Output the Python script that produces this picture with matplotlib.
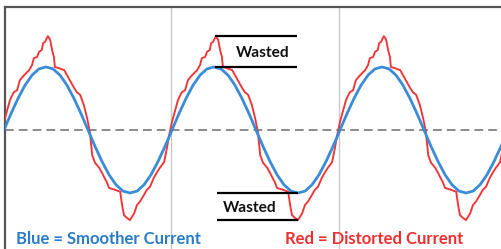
import matplotlib.pyplot as plt
import numpy as np

# one cycle of each waveform: phase in degrees, value relative to the clean peak
blue_deg = [0, 15, 30, 45, 60, 75, 90, 105, 120, 135, 150, 165,
            180, 195, 210, 225, 240, 255, 270, 285, 300, 315, 330, 345]
blue_val = [0.0, 0.26, 0.50, 0.71, 0.87, 0.97, 1.0, 0.97, 0.87, 0.71, 0.50, 0.26,
            0.0, -0.26, -0.50, -0.71, -0.87, -0.97, -1.0, -0.97, -0.87, -0.71, -0.50, -0.26]

red_deg = [0, 6, 13, 21, 28, 34, 43, 54, 60, 64, 71, 75, 81, 84, 88, 94, 99,
           103, 107, 109, 118, 129, 135, 141, 150, 156, 163, 171, 178, 184,
           189, 195, 204, 210, 221, 225, 238, 249, 253, 257, 264, 270, 279,
           285, 291, 300, 306, 313, 321, 328, 334, 343, 349, 354]
red_val = [0.13, 0.29, 0.48, 0.60, 0.63, 0.79, 0.87, 0.95, 1.03, 1.14, 1.16, 1.24, 1.27, 1.38, 1.40, 1.49, 1.43,
           1.27, 1.16, 1.00, 0.98, 0.95, 0.87, 0.79, 0.67, 0.60, 0.56, 0.40, 0.19, -0.03,
           -0.40, -0.52, -0.60, -0.68, -0.84, -0.92, -0.95, -0.98, -1.19, -1.35, -1.40, -1.43, -1.32,
           -1.19, -1.14, -1.03, -0.95, -0.90, -0.76, -0.67, -0.60, -0.51, -0.29, -0.08]

cycles = [-1, 0, 1, 2, 3]
divider_deg = [358, 718]

BLUE = '#3a8cd6'
RED = '#ef3434'
FONT = ['Lato', 'DejaVu Sans']


def tile(deg, val):
    """
    Repeats one cycle over all the cycles shown
    """
    xs = np.concatenate([np.array(deg) + 360 * c for c in cycles])
    ys = np.tile(val, len(cycles))
    return xs, ys


fig = plt.figure(figsize=(5.02, 2.49), dpi=100)
ax = fig.add_axes([5 / 502, 0, 497 / 502, 242 / 249])

for d in divider_deg:
    ax.axvline(d, color='#c4c4c4', lw=0.9, zorder=1)
ax.axhline(0, color='#8a8a8a', lw=1.4, dashes=(4.5, 2.6), zorder=2)

rx, ry = tile(red_deg, red_val)
bx, by = tile(blue_deg, blue_val)
ax.plot(rx, ry, color=RED, lw=1.35, zorder=3)
ax.plot(bx, by, color=BLUE, lw=2.0, zorder=4)

# "Wasted" bands between clean and distorted peaks
top = [max(red_val), max(blue_val)]
bottom = [min(blue_val), min(red_val)]
for y in top:
    ax.plot([452, 628], [y, y], color='black', lw=1.6, zorder=5, solid_capstyle='butt')
for y in bottom:
    ax.plot([456, 630], [y, y], color='black', lw=1.6, zorder=5, solid_capstyle='butt')
ax.text(555, 1.16, 'Wasted', ha='center', va='baseline', fontsize=11.2,
        fontweight='bold', family=FONT, color='#111111')
ax.text(527, -1.30, 'Wasted', ha='center', va='baseline', fontsize=11.2,
        fontweight='bold', family=FONT, color='#111111')

ax.text(25.7, -1.81, 'Blue = Smoother Current', ha='left', va='baseline',
        fontsize=12, fontweight='bold', family=FONT, color='#2a7cc9')
ax.text(602, -1.81, 'Red = Distorted Current', ha='left', va='baseline',
        fontsize=12, fontweight='bold', family=FONT, color='#ec2f2f')

ax.set_xlim(2.14, 1067.1)
ax.set_ylim(-1.889, 1.952)
ax.set_xticks([])
ax.set_yticks([])
for side in ['right', 'bottom']:
    ax.spines[side].set_visible(False)
for side in ['left', 'top']:
    ax.spines[side].set_color('#555555')
    ax.spines[side].set_linewidth(1.6)

fig.savefig('out.png', dpi=100, facecolor='white')
